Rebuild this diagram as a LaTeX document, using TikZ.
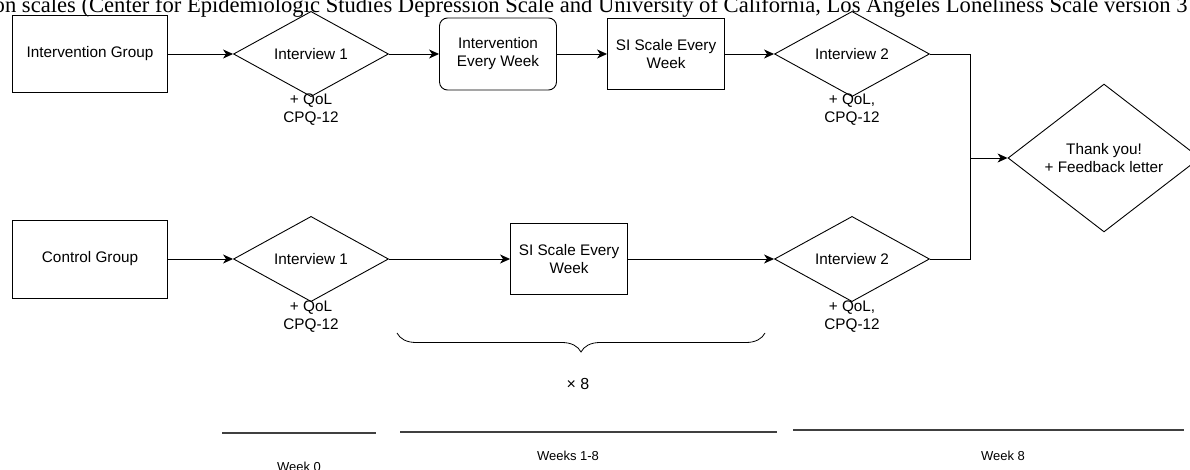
\documentclass[tikz,border=0pt]{standalone}
\usepackage{fontspec}
\setmainfont{Liberation Sans}
\newfontfamily\capfont{Liberation Serif}
\usetikzlibrary{shapes.geometric,arrows.meta,decorations.pathreplacing}
\begin{document}
\begin{tikzpicture}[x=1pt,y=-1pt,
  font=\fontsize{15.3}{18}\selectfont,
  grp/.style={draw,line width=0.9pt,minimum width=155pt,minimum height=77pt,inner sep=0pt},
  wk/.style={draw,line width=0.9pt,minimum width=117pt,minimum height=71pt,align=center,inner sep=0pt},
  ivw/.style={draw,diamond,line width=0.9pt,minimum width=155pt,minimum height=65pt,inner sep=0pt,align=center},
  note/.style={align=center},
  wklabel/.style={font=\fontsize{13}{15}\selectfont},
  conn/.style={line width=0.9pt,-{Stealth[length=10pt,width=9pt,inset=3pt]}}]
\useasboundingbox (0,0) rectangle (1190,470);
\node[anchor=base east,font=\capfont\fontsize{22.6}{24}\selectfont] (cap) at (1191,12.5) {on scales (Center for Epidemiologic Studies Depression Scale and University of California, Los Angeles Loneliness Scale version 3};

% intervention group
\node[grp] (ig) at (90,54) {Intervention Group};
\node[ivw] (i1a) at (311,54) {Interview 1};
\node[wk,rounded corners=8pt,minimum height=72pt] (iew) at (498,54) {Intervention\\Every Week};
\node[wk] (sia) at (666,54) {SI Scale Every\\Week};
\node[ivw] (i2a) at (852,54) {Interview 2};
\node[note] (q1a) at (311,110) {+ QoL\\CPQ-12};
\node[note] (q2a) at (852,110) {+ QoL,\\CPQ-12};

% control group
\node[grp,minimum height=78pt] (cg) at (90,259) {Control Group};
\node[ivw] (i1b) at (311,259) {Interview 1};
\node[wk] (sib) at (569,259) {SI Scale Every\\Week};
\node[ivw] (i2b) at (852,259) {Interview 2};
\node[note] (q1b) at (311,317) {+ QoL\\CPQ-12};
\node[note] (q2b) at (852,317) {+ QoL,\\CPQ-12};

\node[ivw,minimum width=192pt,minimum height=102pt] (ty) at (1104,158) {Thank you!\\+ Feedback letter};
\coordinate (jn) at (970,158);

\foreach \a/\b in {ig/i1a,i1a/iew,iew/sia,sia/i2a,cg/i1b,i1b/sib,sib/i2b}
  \draw[conn] (\a) -- (\b);
\draw[line width=0.9pt] (i2a.east) -| (jn) |- (i2b.east);
\draw[conn] (jn) -- (ty);

% weeks
\draw[line width=0.8pt,decorate,decoration={brace,mirror,amplitude=19pt}] (397,333) -- (765,333);
\node[font=\fontsize{16}{18}\selectfont] (x8) at (578,384) {× 8};
\draw[line width=1.2pt,black!75] (222,433) -- (376,433);
\draw[line width=1.2pt,black!75] (400,432) -- (777,432);
\draw[line width=1.2pt,black!75] (793,430) -- (1184,430);
\node[wklabel] (w0) at (299,467) {Week 0};
\node[wklabel] (w18) at (568,456) {Weeks 1-8};
\node[wklabel] (w8) at (1003,456) {Week 8};
\end{tikzpicture}
\end{document}
